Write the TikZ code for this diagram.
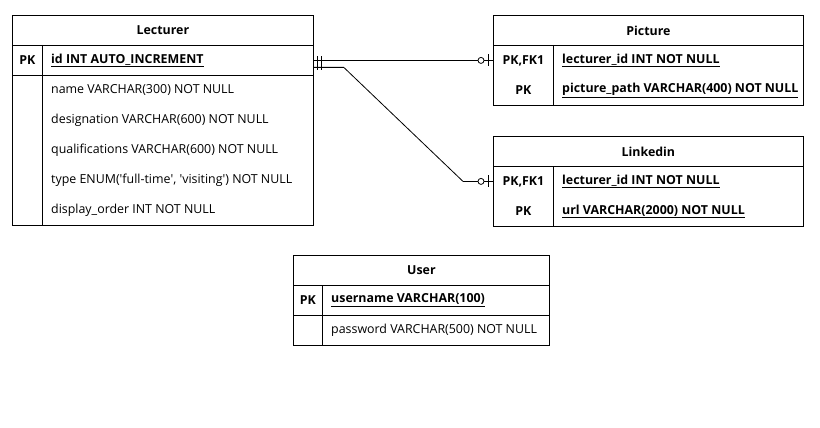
\documentclass[tikz,border=0pt]{standalone}
\usepackage{fontspec}
\setmainfont{Open Sans}
\begin{document}
\begin{tikzpicture}[x=1pt,y=-1pt,line width=0.8pt,
    font=\fontsize{12.4}{14}\selectfont,
    hdr/.style={draw,anchor=north west,minimum height=30pt,inner sep=0pt,font=\fontsize{12.4}{14}\selectfont\bfseries},
    key/.style={anchor=north west,minimum height=30pt,minimum width=#1,inner sep=0pt,font=\fontsize{12.4}{14}\selectfont\bfseries},
    fld/.style={anchor=west,inner sep=0pt},
    pkfld/.style={fld,font=\fontsize{12.4}{14}\selectfont\bfseries}]
  \useasboundingbox (0,0) rectangle (820,428);
  \node[hdr,minimum width=301pt] (lecturer) at (12,15) {Lecturer};
  \node[key=30pt] (lectpk) at (12,45) {PK};
  \node[pkfld] (lectid) at ([xshift=8pt]lectpk.east) {\underline{id INT AUTO\_INCREMENT}};
  \foreach \t [count=\i] in {name VARCHAR(300) NOT NULL, designation VARCHAR(600) NOT NULL, qualifications VARCHAR(600) NOT NULL, {type ENUM(\textquotesingle full-time\textquotesingle, \textquotesingle visiting\textquotesingle) NOT NULL}, display\_order INT NOT NULL} {
    \node[key=30pt] (lectk\i) at (12,45+30*\i) {};
    \node[fld] (lectf\i) at ([xshift=8pt]lectk\i.east) {\t};
  }
  \draw (lectpk.north west) rectangle (lectk5.south west -| lecturer.east);
  \draw (lectpk.south west) -- (lectpk.south west -| lecturer.east);
  \draw (lectpk.north east) -- (lectk5.south east);

  \node[hdr,minimum width=310pt] (picture) at (493,15) {Picture};
  \node[key=60pt] (picfk) at (493,45) {PK,FK1};
  \node[pkfld] (piclid) at ([xshift=8pt]picfk.east) {\underline{lecturer\_id INT NOT NULL}};
  \node[key=60pt] (picpk) at (493,75) {PK};
  \node[pkfld] (picpath) at ([xshift=8pt]picpk.east) {\underline{picture\_path VARCHAR(400) NOT NULL}};
  \draw (picfk.north west) rectangle (picpk.south west -| picture.east);
  \draw (picfk.north east) -- (picpk.south east);

  \node[hdr,minimum width=310pt] (linkedin) at (493,136) {Linkedin};
  \node[key=60pt] (linkfk) at (493,166) {PK,FK1};
  \node[pkfld] (linklid) at ([xshift=8pt]linkfk.east) {\underline{lecturer\_id INT NOT NULL}};
  \node[key=60pt] (linkpk) at (493,196) {PK};
  \node[pkfld] (linkurl) at ([xshift=8pt]linkpk.east) {\underline{url VARCHAR(2000) NOT NULL}};
  \draw (linkfk.north west) rectangle (linkpk.south west -| linkedin.east);
  \draw (linkfk.north east) -- (linkpk.south east);

  \node[hdr,minimum width=256pt] (user) at (293,255) {User};
  \node[key=29pt] (userpk) at (293,285) {PK};
  \node[pkfld] (username) at ([xshift=8pt]userpk.east) {\underline{username VARCHAR(100)}};
  \node[key=29pt] (userk) at (293,315) {};
  \node[fld] (userpass) at ([xshift=8pt]userk.east) {password VARCHAR(500) NOT NULL};
  \draw (userpk.north west) rectangle (userk.south west -| user.east);
  \draw (userpk.south west) -- (userpk.south west -| user.east);
  \draw (userpk.north east) -- (userk.south east);

  \coordinate (lectout) at (lectpk.east -| lecturer.east);
  \coordinate (lk) at ([yshift=-7pt]lectout);
  \draw (lectout) -- (picfk.west);
  \draw (lk) -- ++(30,0) -- ([xshift=-30pt]linkfk.west) -- (linkfk.west);
  \foreach \d in {4,8}
    \draw ([xshift=\d pt,yshift=4pt]lectout) -- ++(0,14);
  \foreach \n in {picfk,linkfk} {
    \draw[fill=white] ([xshift=-12pt]\n.west) circle[radius=3pt];
    \draw ([xshift=-5pt,yshift=6pt]\n.west) -- ++(0,12);
  }
\end{tikzpicture}
\end{document}
